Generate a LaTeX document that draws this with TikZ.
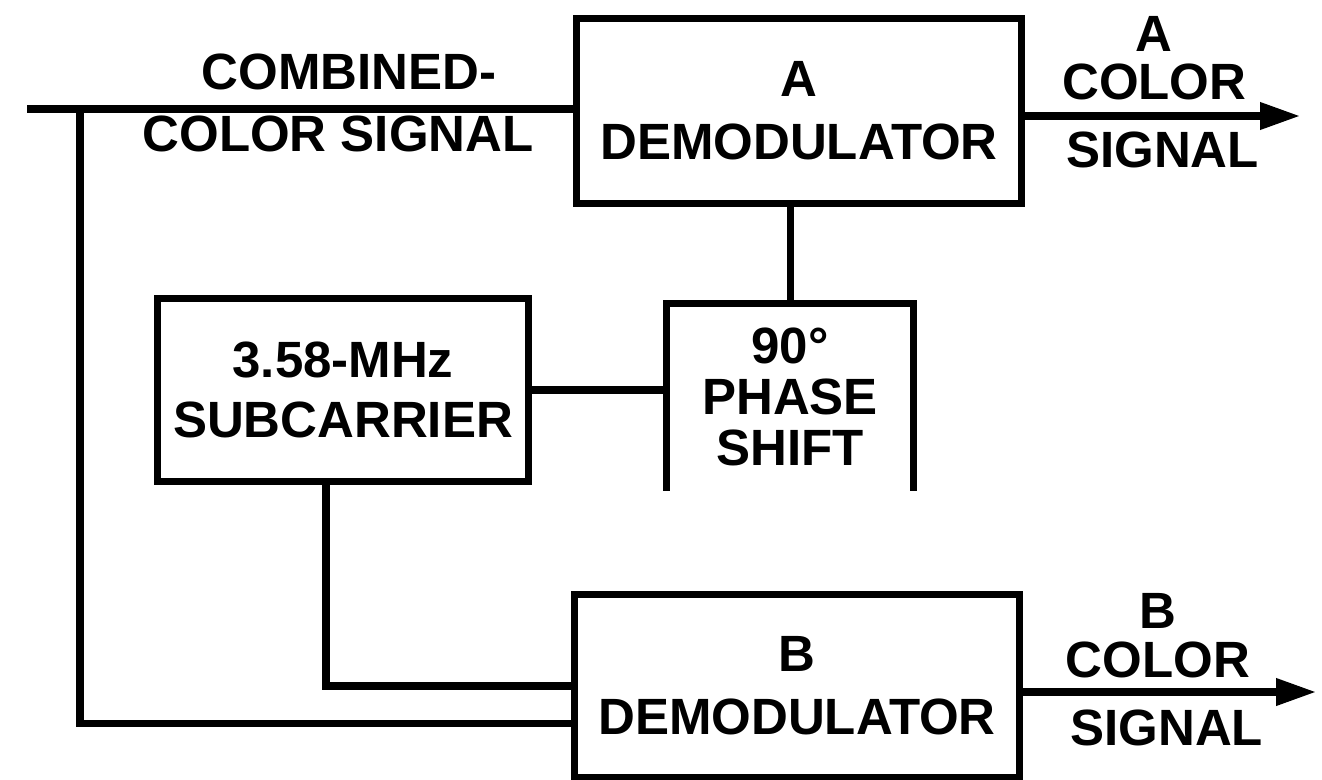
\documentclass[tikz,border=0pt]{standalone}
\usepackage{fontspec}
\setmainfont{Liberation Sans}
\usetikzlibrary{arrows.meta}

\begin{document}
\begin{tikzpicture}[
  x=0.01cm, y=-0.01cm,
  line width=2pt,
  font=\bfseries\fontsize{14.5}{18}\selectfont,
  block/.style={rectangle, draw, align=center, inner sep=2pt},
  demod/.style={block, minimum width=4.45cm, minimum height=1.85cm},
  arr/.style={-{Triangle[length=4mm, width=2.6mm]}},
  lbl/.style={align=center, inner sep=2.5pt,
              font=\bfseries\fontsize{14.5}{13.8}\selectfont}
]
\useasboundingbox (0,0) rectangle (1322,779);

% Row 1: A demodulator
\node[demod] (ademod) at (799,111) {A\\DEMODULATOR};

% Row 2: subcarrier and phase shift
\node[block, minimum width=3.7cm, minimum height=1.83cm,
      font=\bfseries\fontsize{14.5}{17}\selectfont] (sub) at (343,390) {3.58-MHz\\SUBCARRIER};
\node[align=center, minimum width=2.4cm, minimum height=1.8cm,
      font=\bfseries\fontsize{14.5}{14.5}\selectfont] (shift) at (790,397) {90°\\PHASE\\SHIFT};
\draw (shift.south west) -- (shift.north west) -- (shift.north east) -- (shift.south east);

% Row 3: B demodulator
\node[demod, minimum height=1.83cm] (bdemod) at (797,686) {B\\DEMODULATOR};

% Free ends
\coordinate (src) at (27,109);
\coordinate (tap) at (80,109);
\coordinate (aout) at (1300,116);
\coordinate (bout) at (1316,692);

% Arrows
\draw (src) -- node[lbl, above, pos=0.59, yshift=2pt] {COMBINED-}
               node[lbl, below, pos=0.57, inner sep=1pt] {COLOR SIGNAL} (src -| ademod.west);
\draw (tap) |- ([yshift=-3.7mm]bdemod.west);
\draw ([xshift=-1.7mm]sub.south) |- (bdemod.west);
\draw (sub.east) -- (sub.east -| shift.west);
\draw (shift.north) -- (shift.north |- ademod.south);
\draw[arr] (aout -| ademod.east) -- node[lbl, above, pos=0.47, inner sep=3.5pt] {A\\COLOR}
                                  node[lbl, below, pos=0.5, inner sep=3.5pt] {SIGNAL} (aout);
\draw[arr] (bout -| bdemod.east) -- node[lbl, above, pos=0.46, inner sep=3pt] {B\\COLOR}
                                  node[lbl, below, pos=0.49, inner sep=4pt] {SIGNAL} (bout);
\end{tikzpicture}
\end{document}
